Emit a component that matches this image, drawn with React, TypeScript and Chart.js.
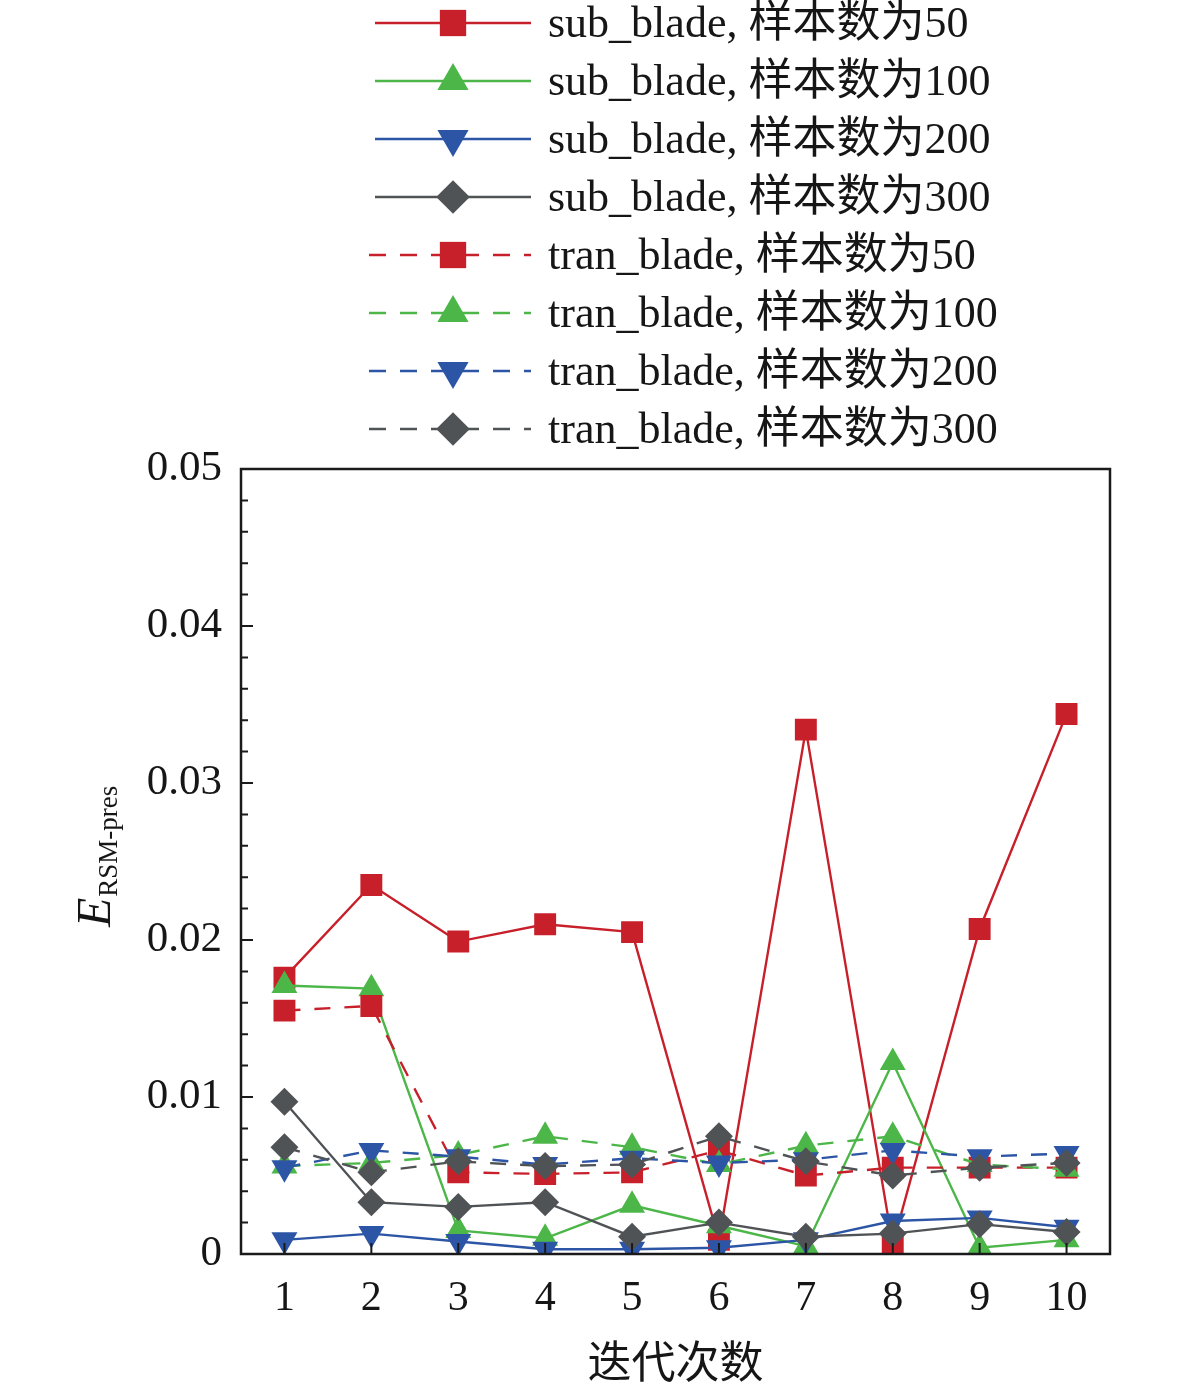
import { useEffect, useRef } from "react";
import Chart from "chart.js/auto";
import { drawPoint } from "chart.js/helpers";

const iterations = ["1", "2", "3", "4", "5", "6", "7", "8", "9", "10"];

const sub50 = [0.0176, 0.0235, 0.0199, 0.021, 0.0205, 0.0009, 0.0334, 0.0006, 0.0207, 0.0344];
const sub100 = [0.0171, 0.0169, 0.0015, 0.001, 0.0031, 0.0018, 0.0005, 0.0122, 0.0004, 0.0009];
const sub200 = [0.0009, 0.0013, 0.0008, 0.0003, 0.0003, 0.0004, 0.0009, 0.0021, 0.0023, 0.0017];
const sub300 = [0.0097, 0.0033, 0.003, 0.0033, 0.0011, 0.002, 0.0011, 0.0013, 0.0019, 0.0014];
const tran50 = [0.0155, 0.0158, 0.0052, 0.0051, 0.0052, 0.0066, 0.005, 0.0055, 0.0055, 0.0055];
const tran100 = [0.0056, 0.0058, 0.0063, 0.0075, 0.0068, 0.0057, 0.0069, 0.0075, 0.0057, 0.0054];
const tran200 = [0.0055, 0.0066, 0.0062, 0.0057, 0.0061, 0.0058, 0.006, 0.0066, 0.0062, 0.0064];
const tran300 = [0.0068, 0.0052, 0.0059, 0.0056, 0.0057, 0.0075, 0.0059, 0.005, 0.0055, 0.0058];

const yTicks = [0, 0.01, 0.02, 0.03, 0.04, 0.05];

const RED = "#c8202b";
const GREEN = "#4cb748";
const BLUE = "#2d55a6";
const GRAY = "#505356";

const SERIF = '"Liberation Serif", "Noto Sans CJK SC", serif';
const DASH = [16, 14];

const series = (
  label: string,
  data: number[],
  color: string,
  style: string,
  dashed: boolean
) => {
  const down = style === "down";
  const pointStyle = down ? "triangle" : style;
  const radius = style === "rect" ? 15.5 : style === "rectRot" ? 14 : 15;
  return {
    label,
    data,
    borderColor: color,
    backgroundColor: color,
    borderWidth: 2.4,
    borderDash: dashed ? DASH : [],
    pointStyle,
    pointRadius: radius,
    pointHoverRadius: radius,
    pointRotation: down ? 180 : 0,
    pointBorderWidth: 0,
    pointBackgroundColor: color,
    tension: 0,
  };
};

const framePlugin = {
  id: "frame",
  afterDatasetsDraw(chart: any) {
    const { ctx, chartArea } = chart;
    const { left, right, top, bottom } = chartArea;
    const xs = chart.scales.x;
    const ys = chart.scales.y;
    ctx.save();
    ctx.strokeStyle = "#1a1a1a";
    ctx.lineWidth = 2.5;
    ctx.strokeRect(left, top, right - left, bottom - top);
    ctx.lineWidth = 2;
    ctx.beginPath();
    iterations.forEach((_, i) => {
      const px = xs.getPixelForValue(i);
      ctx.moveTo(px, bottom);
      ctx.lineTo(px, bottom - 11);
    });
    for (let k = 0; k <= 25; k++) {
      const v = k * 0.002;
      const py = ys.getPixelForValue(v);
      const len = k % 5 === 0 ? 12 : 7;
      ctx.moveTo(left, py);
      ctx.lineTo(left + len, py);
    }
    ctx.stroke();
    ctx.restore();
  },
};

const legendPlugin = {
  id: "lineLegend",
  afterDraw(chart: any) {
    const { ctx } = chart;
    ctx.save();
    chart.data.datasets.forEach((ds: any, i: number) => {
      const y = 23 + i * 58;
      const dashed = ds.borderDash && ds.borderDash.length > 0;
      ctx.strokeStyle = ds.borderColor;
      ctx.lineWidth = 2.5;
      ctx.setLineDash(dashed ? [17, 14] : []);
      ctx.beginPath();
      ctx.moveTo(dashed ? 369 : 375, y);
      ctx.lineTo(531, y);
      ctx.stroke();
      ctx.setLineDash([]);
      ctx.fillStyle = ds.borderColor;
      drawPoint(
        ctx,
        {
          pointStyle: ds.pointStyle,
          radius: ds.pointRadius * 1.2,
          rotation: ds.pointRotation,
          borderWidth: 0,
        } as any,
        453,
        y
      );
      ctx.fillStyle = "#161616";
      ctx.font = `44px ${SERIF}`;
      ctx.textBaseline = "middle";
      ctx.textAlign = "left";
      ctx.fillText(ds.label, 548, y + 2);
    });
    ctx.restore();
  },
};

const yTitlePlugin = {
  id: "yTitle",
  afterDraw(chart: any) {
    const { ctx } = chart;
    ctx.save();
    ctx.translate(110, 927);
    ctx.rotate(-Math.PI / 2);
    ctx.fillStyle = "#161616";
    ctx.textBaseline = "alphabetic";
    ctx.textAlign = "left";
    ctx.font = `italic 48px ${SERIF}`;
    ctx.fillText("E", 0, 0);
    const w = ctx.measureText("E").width;
    ctx.font = `27px ${SERIF}`;
    ctx.fillText("RSM-pres", w + 1, 7);
    ctx.restore();
  },
};

const App = () => {
  const canvasRef = useRef<HTMLCanvasElement>(null);

  useEffect(() => {
    if (!canvasRef.current) return;
    const ctx = canvasRef.current.getContext("2d");
    if (!ctx) return;

    const datasets = [
      series("sub_blade, 样本数为50", sub50, RED, "rect", false),
      series("sub_blade, 样本数为100", sub100, GREEN, "triangle", false),
      series("sub_blade, 样本数为200", sub200, BLUE, "down", false),
      series("sub_blade, 样本数为300", sub300, GRAY, "rectRot", false),
      series("tran_blade, 样本数为50", tran50, RED, "rect", true),
      series("tran_blade, 样本数为100", tran100, GREEN, "triangle", true),
      series("tran_blade, 样本数为200", tran200, BLUE, "down", true),
      series("tran_blade, 样本数为300", tran300, GRAY, "rectRot", true),
    ].map((d, i, arr) => ({ ...d, order: arr.length - 1 - i }));

    const chart = new Chart(ctx, {
      type: "line",
      data: { labels: iterations, datasets },
      options: {
        animation: false,
        responsive: true,
        maintainAspectRatio: false,
        layout: { padding: { top: 469, right: 71, left: 0, bottom: 0 } },
        plugins: {
          legend: { display: false },
          tooltip: { enabled: false },
        },
        scales: {
          x: {
            type: "category",
            offset: true,
            grid: { display: false, drawTicks: false },
            border: { display: false },
            ticks: {
              color: "#161616",
              font: { family: SERIF, size: 42 },
              padding: 20,
              maxRotation: 0,
              autoSkip: false,
            },
            title: {
              display: true,
              text: "迭代次数",
              color: "#161616",
              font: { family: SERIF, size: 44 },
              padding: { top: 0, bottom: -3 },
            },
            afterFit: (s: any) => {
              s.height = 136;
            },
          },
          y: {
            min: 0,
            max: 0.05,
            grid: { display: false, drawTicks: false },
            border: { display: false },
            afterBuildTicks: (s: any) => {
              s.ticks = yTicks.map((v) => ({ value: v }));
            },
            ticks: {
              color: "#161616",
              font: { family: SERIF, size: 43 },
              padding: 19,
              callback: (v: any) => (Number(v) === 0 ? "0" : Number(v).toFixed(2)),
            },
            afterFit: (s: any) => {
              s.width = 241;
            },
          },
        },
      },
      plugins: [framePlugin, legendPlugin, yTitlePlugin],
    });

    return () => {
      chart.destroy();
    };
  }, []);

  return (
    <div style={{ position: "absolute", left: 0, top: 0, width: 1181, height: 1390, background: "#fff" }}>
      <canvas ref={canvasRef}></canvas>
    </div>
  );
};

export default App;
